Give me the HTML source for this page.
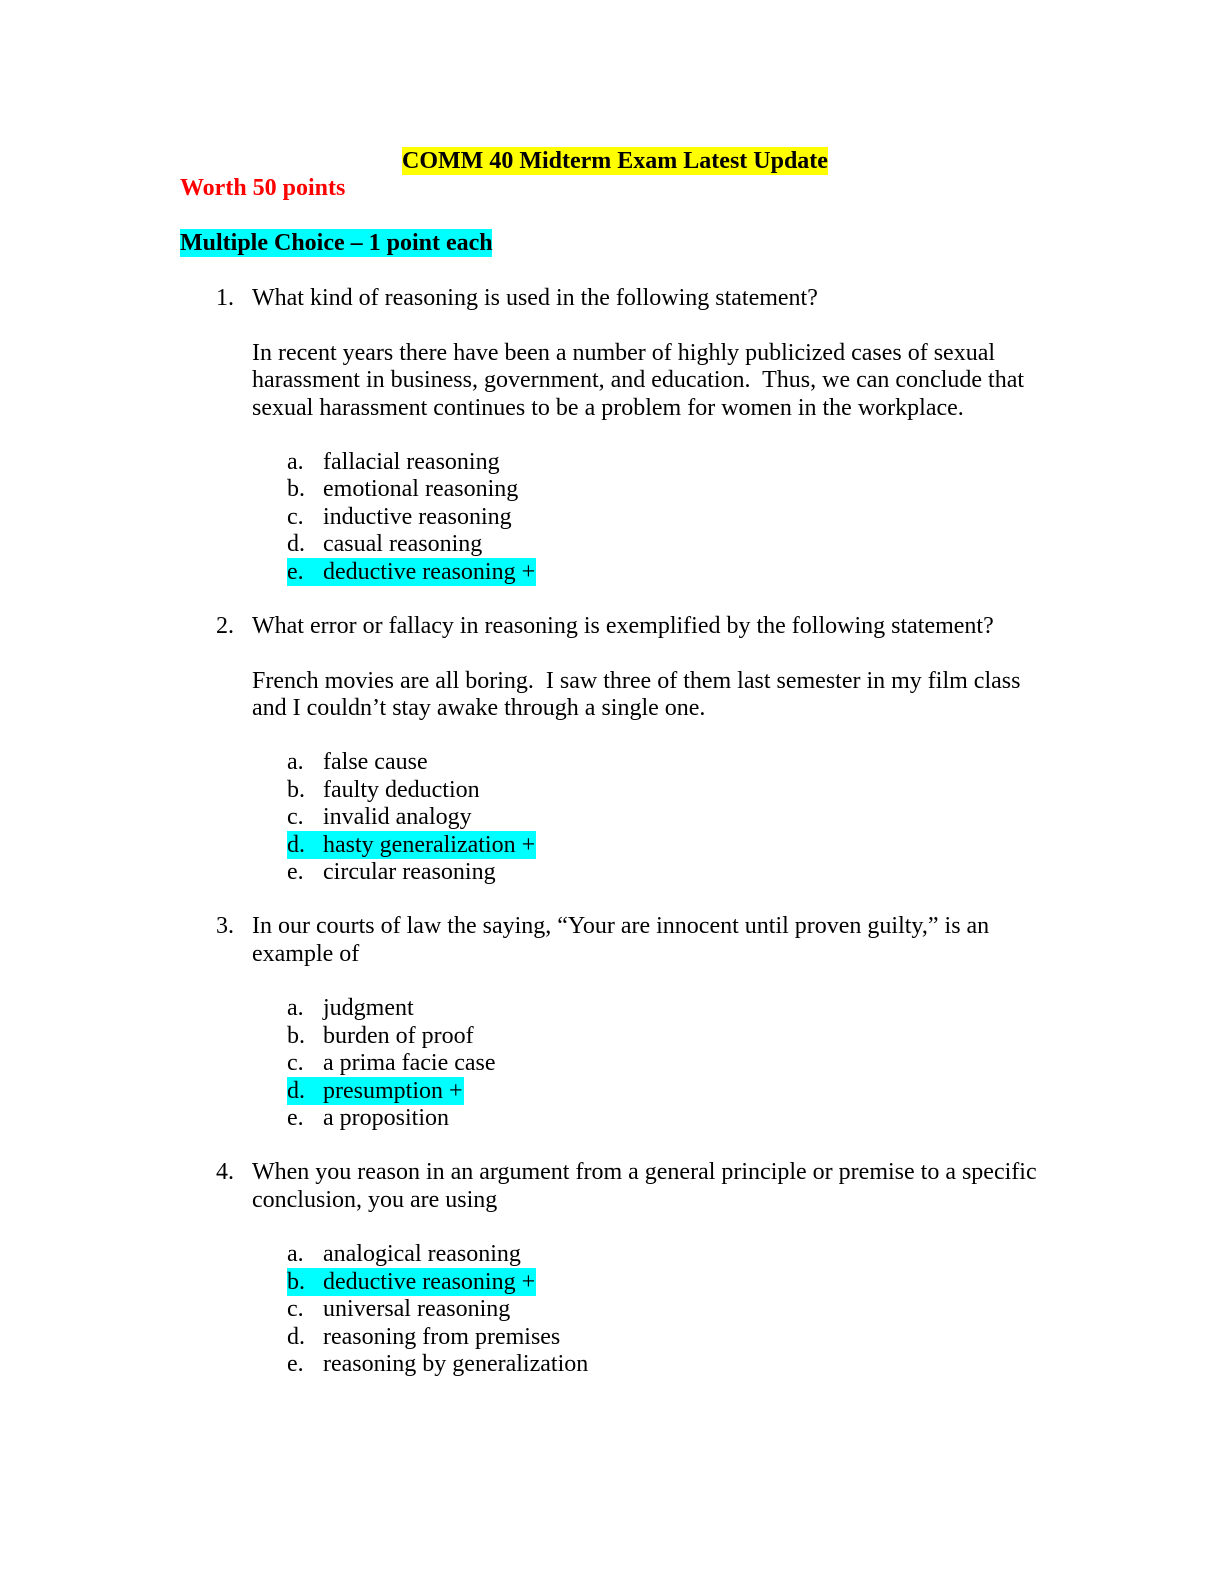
<!DOCTYPE html>
<html><head><meta charset="utf-8"><style>
html,body{margin:0;padding:0;background:#fff}
body{width:1224px;height:1584px;position:relative;overflow:hidden;font-family:"Liberation Serif","Times New Roman",serif;font-size:24px;color:#000}
#w{position:absolute;left:4px;top:5px;width:1224px;height:1584px}
.l{position:absolute;line-height:28px;white-space:nowrap;height:28px}
.b{font-weight:bold}
.y{background:#ffff00}
.c{background:#00ffff}
</style></head><body><div id="w">
<div class="l b y" style="top:142px;left:398px;width:426px;text-align:center">COMM 40 Midterm Exam Latest Update</div>
<div class="l b" style="top:169px;left:176px;color:#ff0000">Worth 50 points</div>
<div class="l b c" style="top:224px;left:176px;width:312px">Multiple Choice – 1 point each</div>

<div class="l" style="top:279px;left:212px">1.</div>
<div class="l" style="top:279px;left:248px">What kind of reasoning is used in the following statement?</div>
<div class="l" style="top:334px;left:248px">In recent years there have been a number of highly publicized cases of sexual</div>
<div class="l" style="top:361px;left:248px">harassment in business, government, and education.&nbsp; Thus, we can conclude that</div>
<div class="l" style="top:389px;left:248px">sexual harassment continues to be a problem for women in the workplace.</div>
<div class="l" style="top:443px;left:283px">a.</div><div class="l" style="top:443px;left:319px">fallacial reasoning</div>
<div class="l" style="top:470px;left:283px">b.</div><div class="l" style="top:470px;left:319px">emotional reasoning</div>
<div class="l" style="top:498px;left:283px">c.</div><div class="l" style="top:498px;left:319px">inductive reasoning</div>
<div class="l" style="top:525px;left:283px">d.</div><div class="l" style="top:525px;left:319px">casual reasoning</div>
<div class="l c" style="top:553px;left:283px;width:249px"></div><div class="l" style="top:553px;left:283px">e.</div><div class="l" style="top:553px;left:319px">deductive reasoning +</div>

<div class="l" style="top:607px;left:212px">2.</div>
<div class="l" style="top:607px;left:248px">What error or fallacy in reasoning is exemplified by the following statement?</div>
<div class="l" style="top:662px;left:248px">French movies are all boring.&nbsp; I saw three of them last semester in my film class</div>
<div class="l" style="top:689px;left:248px">and I couldn’t stay awake through a single one.</div>
<div class="l" style="top:743px;left:283px">a.</div><div class="l" style="top:743px;left:319px">false cause</div>
<div class="l" style="top:771px;left:283px">b.</div><div class="l" style="top:771px;left:319px">faulty deduction</div>
<div class="l" style="top:798px;left:283px">c.</div><div class="l" style="top:798px;left:319px">invalid analogy</div>
<div class="l c" style="top:826px;left:283px;width:249px"></div><div class="l" style="top:826px;left:283px">d.</div><div class="l" style="top:826px;left:319px">hasty generalization +</div>
<div class="l" style="top:853px;left:283px">e.</div><div class="l" style="top:853px;left:319px">circular reasoning</div>

<div class="l" style="top:907px;left:212px">3.</div>
<div class="l" style="top:907px;left:248px">In our courts of law the saying, “Your are innocent until proven guilty,” is an</div>
<div class="l" style="top:935px;left:248px">example of</div>
<div class="l" style="top:989px;left:283px">a.</div><div class="l" style="top:989px;left:319px">judgment</div>
<div class="l" style="top:1017px;left:283px">b.</div><div class="l" style="top:1017px;left:319px">burden of proof</div>
<div class="l" style="top:1044px;left:283px">c.</div><div class="l" style="top:1044px;left:319px">a prima facie case</div>
<div class="l c" style="top:1072px;left:283px;width:177px"></div><div class="l" style="top:1072px;left:283px">d.</div><div class="l" style="top:1072px;left:319px">presumption +</div>
<div class="l" style="top:1099px;left:283px">e.</div><div class="l" style="top:1099px;left:319px">a proposition</div>

<div class="l" style="top:1153px;left:212px">4.</div>
<div class="l" style="top:1153px;left:248px">When you reason in an argument from a general principle or premise to a specific</div>
<div class="l" style="top:1181px;left:248px">conclusion, you are using</div>
<div class="l" style="top:1235px;left:283px">a.</div><div class="l" style="top:1235px;left:319px">analogical reasoning</div>
<div class="l c" style="top:1263px;left:283px;width:249px"></div><div class="l" style="top:1263px;left:283px">b.</div><div class="l" style="top:1263px;left:319px">deductive reasoning +</div>
<div class="l" style="top:1290px;left:283px">c.</div><div class="l" style="top:1290px;left:319px">universal reasoning</div>
<div class="l" style="top:1318px;left:283px">d.</div><div class="l" style="top:1318px;left:319px">reasoning from premises</div>
<div class="l" style="top:1345px;left:283px">e.</div><div class="l" style="top:1345px;left:319px">reasoning by generalization</div>
</div></body></html>
